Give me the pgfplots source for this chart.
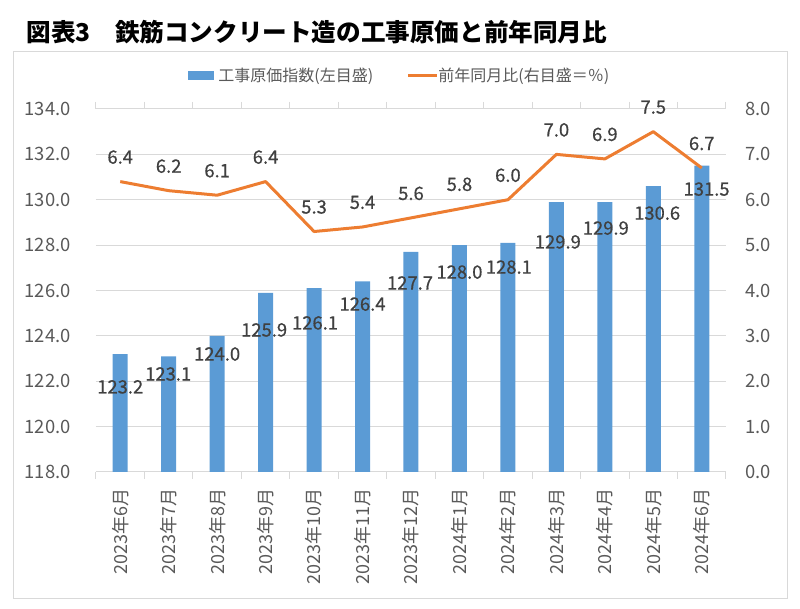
\documentclass[border=0pt]{standalone}
\usepackage{fontspec}
\setmainfont{Noto Sans CJK JP}
\newfontfamily\labfont{Noto Sans CJK JP}[FakeBold=0.6]
\usepackage{pgfplots}
\pgfplotsset{compat=1.18}
\definecolor{barblue}{HTML}{5B9BD5}
\definecolor{lineorange}{HTML}{ED7D31}
\definecolor{tickgray}{HTML}{595959}
\definecolor{labgray}{HTML}{404040}
\definecolor{gridgray}{HTML}{D9D9D9}
\begin{document}
\begin{tikzpicture}
\useasboundingbox (0,0) rectangle (400pt,304.5pt);
\draw[gridgray, line width=0.5pt] (6.5pt,5pt) rectangle (393.5pt,278.5pt);
\node[anchor=west, inner sep=0pt, font=\fontsize{12.3}{14}\selectfont\bfseries] at (13pt,288.5pt) {図表3　鉄筋コンクリート造の工事原価と前年同月比};
% legend
\fill[barblue] (94pt,264.5pt) rectangle (107pt,269pt);
\node[anchor=west, inner sep=0pt, text=tickgray, font=\fontsize{8}{9}\selectfont] at (109pt,266.5pt) {工事原価指数(左目盛)};
\draw[lineorange, line width=1.5pt] (204pt,266.5pt) -- (218.5pt,266.5pt);
\node[anchor=west, inner sep=0pt, text=tickgray, font=\fontsize{8}{9}\selectfont] at (219pt,266.5pt) {前年同月比(右目盛＝％)};

\begin{axis}[at={(48pt,68.5pt)}, anchor=south west, scale only axis,
  width=315pt, height=181.5pt,
  xmin=-0.5, xmax=12.5, ymin=118, ymax=134, ytick={118,120,...,134},
  xtick={0,...,12},
  xticklabels={2023年6月,2023年7月,2023年8月,2023年9月,2023年10月,2023年11月,2023年12月,2024年1月,2024年2月,2024年3月,2024年4月,2024年5月,2024年6月},
  axis line style={draw=none}, major tick length=0pt,
  ymajorgrids, grid style={gridgray, line width=0.5pt},
  extra x ticks={-0.5,0.5,...,12.5},
  extra x tick style={grid=none, xticklabel={}, major tick length=3.5pt, tick align=outside, tick style={gridgray, line width=0.5pt}},
  yticklabel={\pgfmathprintnumber[fixed,fixed zerofill,precision=1,assume math mode=true]{\tick}},
  yticklabel style={anchor=east, inner sep=0pt, xshift=-12.5pt, font=\fontsize{9.2}{10}\selectfont, text=tickgray},
  xticklabel style={yshift=-8pt, rotate=90, anchor=east, inner sep=0pt, font=\fontsize{9}{10}\selectfont, text=tickgray},
]
\addplot[ybar, bar width=7.5pt, fill=barblue, draw=none] coordinates {
(0,123.2) (1,123.1) (2,124.0) (3,125.9) (4,126.1) (5,126.4) (6,127.7)
(7,128.0) (8,128.1) (9,129.9) (10,129.9) (11,130.6) (12,131.5)};
\addplot[draw=none, nodes near coords, point meta=explicit symbolic,
  every node near coord/.append style={anchor=center, inner sep=0pt, font=\labfont\fontsize{9.2}{10}\selectfont, text=labgray}]
coordinates {
(0,121.75) [123.2] (0.99,122.32) [123.1] (2,123.20) [124.0] (2.97,124.26) [125.9]
(4.02,124.57) [126.1] (5,125.40) [126.4] (5.98,126.33) [127.7] (7,126.81) [128.0]
(8.02,127.03) [128.1] (9.03,128.14) [129.9] (10.02,128.75) [129.9] (11.08,129.41) [130.6]
(12.1,130.47) [131.5]};
\end{axis}

\begin{axis}[at={(48pt,68.5pt)}, anchor=south west, scale only axis,
  width=315pt, height=181.5pt, clip=false,
  xmin=-0.5, xmax=12.5, ymin=0, ymax=8, ytick={0,1,...,8},
  xtick=\empty, axis line style={draw=none}, major tick length=0pt,
  yticklabel pos=right,
  yticklabel={\pgfmathprintnumber[fixed,fixed zerofill,precision=1,assume math mode=true]{\tick}},
  yticklabel style={anchor=west, inner sep=0pt, xshift=9.5pt, font=\fontsize{9.2}{10}\selectfont, text=tickgray},
]
\addplot[lineorange, line width=1.5pt, line join=round] coordinates {
(0,6.4) (1,6.2) (2,6.1) (3,6.4) (4,5.3) (5,5.4) (6,5.6)
(7,5.8) (8,6.0) (9,7.0) (10,6.9) (11,7.5) (12,6.7)};
\addplot[draw=none, nodes near coords, point meta=explicit symbolic,
  every node near coord/.append style={anchor=center, inner sep=0pt, font=\labfont\fontsize{9.2}{10}\selectfont, text=labgray}]
coordinates {
(0,6.94) [6.4] (1,6.74) [6.2] (2,6.64) [6.1] (3,6.94) [6.4] (4,5.84) [5.3] (5,5.94) [5.4]
(6,6.14) [5.6] (7,6.34) [5.8] (8,6.54) [6.0] (9,7.54) [7.0] (10,7.44) [6.9] (11,8.04) [7.5]
(12,7.24) [6.7]};
\end{axis}
\end{tikzpicture}
\end{document}
